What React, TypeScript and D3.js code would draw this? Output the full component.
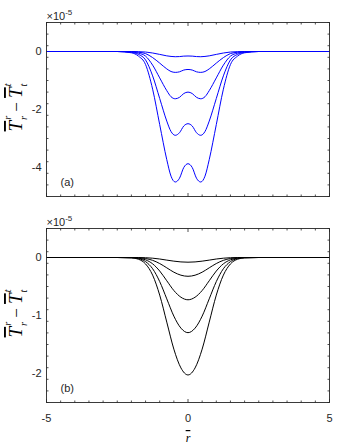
import React from 'react';
import * as d3 from 'd3';

// radial coordinate samples
const rA = [-5, -3, -2.5, -2, -1.75, -1.5, -1.25, -1, -0.75, -0.6, -0.45, -0.3, -0.15, 0,
  0.15, 0.3, 0.45, 0.6, 0.75, 1, 1.25, 1.5, 1.75, 2, 2.5, 3, 5];
const rB = [-5, -3, -2.5, -2, -1.75, -1.5, -1.25, -1, -0.75, -0.5, -0.25, 0,
  0.25, 0.5, 0.75, 1, 1.25, 1.5, 1.75, 2, 2.5, 3, 5];

// panel (a), units of 1e-5
const a1 = [0, 0, 0, -0.002, -0.006, -0.018, -0.052, -0.10, -0.15, -0.17, -0.18, -0.175, -0.16, -0.155,
  -0.16, -0.175, -0.18, -0.17, -0.15, -0.10, -0.052, -0.018, -0.006, -0.002, 0, 0, 0];
const a2 = [0, 0, 0, -0.007, -0.025, -0.072, -0.21, -0.40, -0.60, -0.69, -0.72, -0.70, -0.64, -0.62,
  -0.64, -0.70, -0.72, -0.69, -0.60, -0.40, -0.21, -0.072, -0.025, -0.007, 0, 0, 0];
const a3 = [0, 0, 0, -0.016, -0.057, -0.16, -0.47, -0.91, -1.35, -1.56, -1.63, -1.58, -1.45, -1.40,
  -1.45, -1.58, -1.63, -1.56, -1.35, -0.91, -0.47, -0.16, -0.057, -0.016, 0, 0, 0];
const a4 = [0, 0, 0, -0.03, -0.10, -0.29, -0.84, -1.62, -2.40, -2.76, -2.89, -2.80, -2.57, -2.49,
  -2.57, -2.80, -2.89, -2.76, -2.40, -1.62, -0.84, -0.29, -0.10, -0.03, 0, 0, 0];
const a5 = [0, 0, 0, -0.045, -0.16, -0.45, -1.3, -2.52, -3.73, -4.30, -4.5, -4.37, -4.0, -3.87,
  -4.0, -4.37, -4.5, -4.30, -3.73, -2.52, -1.3, -0.45, -0.16, -0.045, 0, 0, 0];

// panel (b), units of 1e-5
const b1 = [0, 0, 0, 0, -0.001, -0.004, -0.012, -0.026, -0.045, -0.063, -0.076, -0.081,
  -0.076, -0.063, -0.045, -0.026, -0.012, -0.004, -0.001, 0, 0, 0, 0];
const b2 = [0, 0, 0, -0.001, -0.005, -0.018, -0.049, -0.104, -0.178, -0.253, -0.305, -0.324,
  -0.305, -0.253, -0.178, -0.104, -0.049, -0.018, -0.005, -0.001, 0, 0, 0];
const b3 = [0, 0, 0, -0.002, -0.011, -0.040, -0.109, -0.233, -0.401, -0.569, -0.685, -0.729,
  -0.685, -0.569, -0.401, -0.233, -0.109, -0.040, -0.011, -0.002, 0, 0, 0];
const b4 = [0, 0, 0, -0.004, -0.019, -0.071, -0.194, -0.415, -0.713, -1.011, -1.218, -1.296,
  -1.218, -1.011, -0.713, -0.415, -0.194, -0.071, -0.019, -0.004, 0, 0, 0];
const b5 = [0, 0, 0, -0.006, -0.030, -0.111, -0.304, -0.648, -1.114, -1.580, -1.904, -2.025,
  -1.904, -1.580, -1.114, -0.648, -0.304, -0.111, -0.030, -0.006, 0, 0, 0];

const xTicks = [-5, 0, 5];
const yTicksA = [-4, -2, 0];
const yTicksB = [-2, -1, 0];

const W = 339, H = 447;
const left = 46.5, right = 329.5;
const axisColor = '#262626';
const sans = '"Liberation Sans", Arial, sans-serif';
const serif = '"Liberation Serif", "Times New Roman", serif';

const x = d3.scaleLinear().domain([-5, 5]).range([left, right]);

function Panel({ top, bottom, domain, yTicks, minorStep, rs, series, color, tag, showX }) {
  const y = d3.scaleLinear().domain(domain).range([bottom, top]);
  const line = d3.line<number>()
    .x((_, i) => x(rs[i]))
    .y(d => y(d))
    .curve(d3.curveMonotoneX);
  const xMinor = d3.range(-5, 5.001, 0.5);
  const yMinor = d3.range(domain[0], domain[1] + 1e-6, minorStep);
  const midY = (top + bottom) / 2;
  return (
    <g>
      <defs>
        <clipPath id={'clip' + tag}>
          <rect x={left} y={top} width={right - left} height={bottom - top} />
        </clipPath>
      </defs>
      <g clipPath={`url(#clip${tag})`}>
        {series.map((s, i) => (
          <path key={i} d={line(s) || ''} fill="none" stroke={color} strokeWidth={1} />
        ))}
      </g>
      <rect x={left} y={top} width={right - left} height={bottom - top}
        fill="none" stroke={axisColor} strokeWidth={0.9} />
      {xMinor.map((t, i) => {
        const major = xTicks.includes(t);
        const len = major ? 3.5 : 2;
        return (
          <g key={'xt' + i} stroke={axisColor} strokeWidth={0.8}>
            <line x1={x(t)} x2={x(t)} y1={bottom} y2={bottom - len} />
            <line x1={x(t)} x2={x(t)} y1={top} y2={top + len} />
          </g>
        );
      })}
      {yMinor.map((t, i) => {
        const major = yTicks.some(v => Math.abs(v - t) < 1e-6);
        const len = major ? 3.5 : 2;
        return (
          <g key={'yt' + i} stroke={axisColor} strokeWidth={0.8}>
            <line x1={left} x2={left + len} y1={y(t)} y2={y(t)} />
            <line x1={right} x2={right - len} y1={y(t)} y2={y(t)} />
          </g>
        );
      })}
      {yTicks.map(t => (
        <text key={'yl' + t} x={left - 5} y={y(t)} dy="0.35em" textAnchor="end"
          fontFamily={sans} fontSize={11} fill={axisColor}>{t}</text>
      ))}
      {showX && xTicks.map(t => (
        <text key={'xl' + t} x={x(t)} y={bottom + 19} textAnchor="middle"
          fontFamily={sans} fontSize={11} fill={axisColor}>{t}</text>
      ))}
      <text x={left} y={top - 3} fontFamily={sans} fontSize={11} fill={axisColor}>
        ×10<tspan fontSize={8} dy={-5}>-5</tspan>
      </text>
      <text x={left + 14} y={bottom - 11} fontFamily={sans} fontSize={11} fill={axisColor}>
        ({tag})
      </text>
      <g transform={`translate(22, ${midY - 2}) rotate(-90)`}>
        <text x={0} y={0} textAnchor="middle" fontFamily={serif} fill="#000">
          <tspan fontStyle="italic" fontSize={19} textDecoration="overline">T</tspan>
          <tspan fontStyle="italic" fontSize={10} dx={1} dy={-11}>r</tspan>
          <tspan fontStyle="italic" fontSize={10} dx={-4} dy={16}>r</tspan>
          <tspan fontSize={17} dy={-5}>{' \u2212 '}</tspan>
          <tspan fontStyle="italic" fontSize={19} textDecoration="overline">T</tspan>
          <tspan fontStyle="italic" fontSize={10} dx={1} dy={-11}>t</tspan>
          <tspan fontStyle="italic" fontSize={10} dx={-3} dy={16}>t</tspan>
        </text>
      </g>
    </g>
  );
}

export default function App() {
  return (
    <svg width={W} height={H} style={{ position: 'absolute', left: 0, top: 0, background: '#fff' }}>
      <rect width={W} height={H} fill="#fff" />
      <Panel top={22.5} bottom={196.5} domain={[-5, 1]} yTicks={yTicksA} minorStep={0.4}
        rs={rA} series={[a1, a2, a3, a4, a5]} color="#0000ff" tag="a" showX={false} />
      <Panel top={228.5} bottom={402.5} domain={[-2.5, 0.5]} yTicks={yTicksB} minorStep={0.2}
        rs={rB} series={[b1, b2, b3, b4, b5]} color="#000" tag="b" showX={true} />
      <text x={x(0)} y={442} textAnchor="middle" fontFamily={serif} fontStyle="italic"
        fontSize={12} textDecoration="overline" fill="#000">r</text>
    </svg>
  );
}
